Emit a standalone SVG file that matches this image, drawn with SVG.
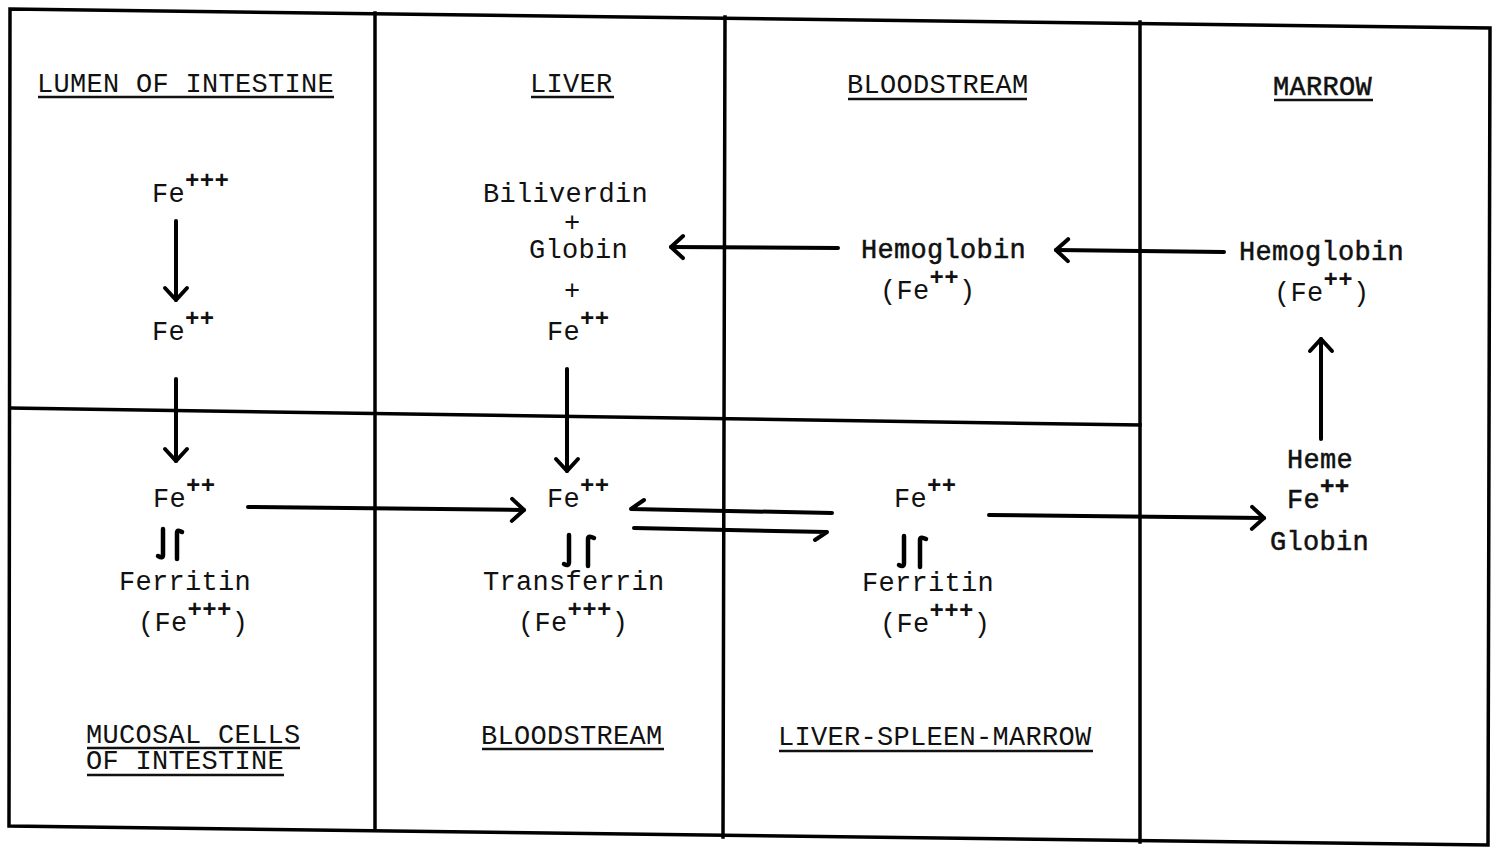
<svg xmlns="http://www.w3.org/2000/svg" width="1500" height="849" viewBox="0 0 1500 849">
<style>
  text { font-family: "Liberation Mono", "DejaVu Sans Mono", monospace; font-size: 27px; fill: #111; letter-spacing: 0.3px; }
  .sup { font-size: 24px; font-weight: bold; }
  .b { stroke: #111; stroke-width: 0.5px; }
  .grid { stroke: #000; stroke-width: 3.5; fill: none; stroke-linecap: square; }
  .ul { stroke: #111; stroke-width: 2.5; }
  .arr { stroke: #000; stroke-width: 4; fill: none; stroke-linecap: round; marker-end: url(#head); }
  .half { stroke: #000; stroke-width: 4; fill: none; stroke-linecap: round; stroke-linejoin: round; }
  .hp { stroke: #000; stroke-width: 4.5; fill: none; stroke-linecap: round; stroke-linejoin: round; }
</style>
<defs>
  <marker id="head" markerUnits="userSpaceOnUse" viewBox="-16 -14 20 28" refX="0" refY="0" markerWidth="20" markerHeight="28" orient="auto">
    <path d="M-12,-11 L0,0 L-12,11" stroke="#000" stroke-width="4" fill="none" stroke-linecap="round" stroke-linejoin="round"/>
  </marker>
</defs>
<rect width="1500" height="849" fill="#fff"/>

<g id="grid">
  <polygon class="grid" points="10,9 1490,28 1488,845 9,826"/>
  <line class="grid" x1="375" y1="13" x2="375" y2="830"/>
  <line class="grid" x1="725" y1="17" x2="723" y2="837"/>
  <line class="grid" x1="1140" y1="22" x2="1140" y2="842"/>
  <line class="grid" x1="10" y1="408" x2="1140" y2="425"/>
</g>

<g id="headers">
  <text x="37" y="92">LUMEN OF INTESTINE</text>
  <line class="ul" x1="38" y1="97" x2="334" y2="97"/>
  <text x="530" y="92">LIVER</text>
  <line class="ul" x1="531" y1="97" x2="614" y2="97"/>
  <text x="847" y="93">BLOODSTREAM</text>
  <line class="ul" x1="848" y1="99" x2="1027" y2="99"/>
  <text class="b" x="1273" y="95">MARROW</text>
  <line class="ul" x1="1274" y1="100" x2="1373" y2="100"/>
  <text x="86" y="743">MUCOSAL CELLS<tspan x="86" y="769">OF INTESTINE</tspan></text>
  <line class="ul" x1="87" y1="748" x2="300" y2="748"/>
  <line class="ul" x1="87" y1="775" x2="284" y2="775"/>
  <text x="481" y="744">BLOODSTREAM</text>
  <line class="ul" x1="482" y1="749" x2="664" y2="749"/>
  <text x="778" y="745">LIVER-SPLEEN-MARROW</text>
  <line class="ul" x1="779" y1="751" x2="1093" y2="751"/>
</g>

<g id="lumen-fe3">
  <text x="152" y="202">Fe<tspan class="sup" dy="-14">+++</tspan></text>
</g>
<g id="lumen-fe2">
  <text x="152" y="340">Fe<tspan class="sup" dy="-14">++</tspan></text>
</g>
<g id="mucosal-fe2">
  <text x="153" y="507">Fe<tspan class="sup" dy="-14">++</tspan></text>
</g>
<g id="mucosal-eq">
  <path class="hp" d="M163,529 V555 Q163,559 158,556"/>
  <path class="hp" d="M177,559 V533 Q177,529 182,532"/>
</g>
<g id="mucosal-ferritin">
  <text x="119" y="590">Ferritin</text>
  <text x="138" y="631">(Fe<tspan class="sup" dy="-14">+++</tspan><tspan dy="14">)</tspan></text>
</g>

<g id="liver-products">
  <text x="483" y="202">Biliverdin</text>
  <text x="564" y="231">+</text>
  <text x="529" y="258">Globin</text>
  <text x="564" y="299">+</text>
  <text x="547" y="340">Fe<tspan class="sup" dy="-14">++</tspan></text>
</g>

<g id="blood-fe2">
  <text x="547" y="507">Fe<tspan class="sup" dy="-14">++</tspan></text>
</g>
<g id="blood-eq">
  <path class="hp" d="M569,535 V562 Q569,567 564,564"/>
  <path class="hp" d="M588,566 V539 Q588,535 594,538"/>
</g>
<g id="blood-transferrin">
  <text x="483" y="590">Transferrin</text>
  <text x="518" y="631">(Fe<tspan class="sup" dy="-14">+++</tspan><tspan dy="14">)</tspan></text>
</g>

<g id="bloodstream-hemoglobin">
  <text class="b" x="861" y="258">Hemoglobin</text>
  <text x="880" y="299">(Fe<tspan class="sup" dy="-14">++</tspan><tspan dy="14">)</tspan></text>
</g>

<g id="lsm-fe2">
  <text x="894" y="507">Fe<tspan class="sup" dy="-14">++</tspan></text>
</g>
<g id="lsm-eq">
  <path class="hp" d="M904,536 V563 Q904,568 899,565"/>
  <path class="hp" d="M920,567 V540 Q920,536 926,539"/>
</g>
<g id="lsm-ferritin">
  <text x="862" y="591">Ferritin</text>
  <text x="880" y="632">(Fe<tspan class="sup" dy="-14">+++</tspan><tspan dy="14">)</tspan></text>
</g>

<g id="marrow-hemoglobin">
  <text class="b" x="1239" y="260">Hemoglobin</text>
  <text x="1274" y="301">(Fe<tspan class="sup" dy="-14">++</tspan><tspan dy="14">)</tspan></text>
</g>
<g id="marrow-heme">
  <text class="b" x="1287" y="468">Heme</text>
  <text class="b" x="1287" y="508">Fe<tspan class="sup" dy="-14">++</tspan></text>
  <text class="b" x="1270" y="550">Globin</text>
</g>

<g id="connectors">
  <line class="arr" x1="176" y1="221" x2="176" y2="300"/>
  <line class="arr" x1="176" y1="379" x2="176" y2="461"/>
  <line class="arr" x1="567" y1="369" x2="567" y2="471"/>
  <line class="arr" x1="248" y1="507" x2="524" y2="510"/>
  <line class="arr" x1="838" y1="248" x2="671" y2="247"/>
  <line class="arr" x1="1224" y1="252" x2="1056" y2="250"/>
  <line class="arr" x1="1321" y1="439" x2="1321" y2="339"/>
  <line class="arr" x1="989" y1="515" x2="1264" y2="518"/>
  <path class="half" d="M832,513 L631,509 L644,500"/>
  <path class="half" d="M634,528 L827,532 L815,540"/>
</g>
</svg>
